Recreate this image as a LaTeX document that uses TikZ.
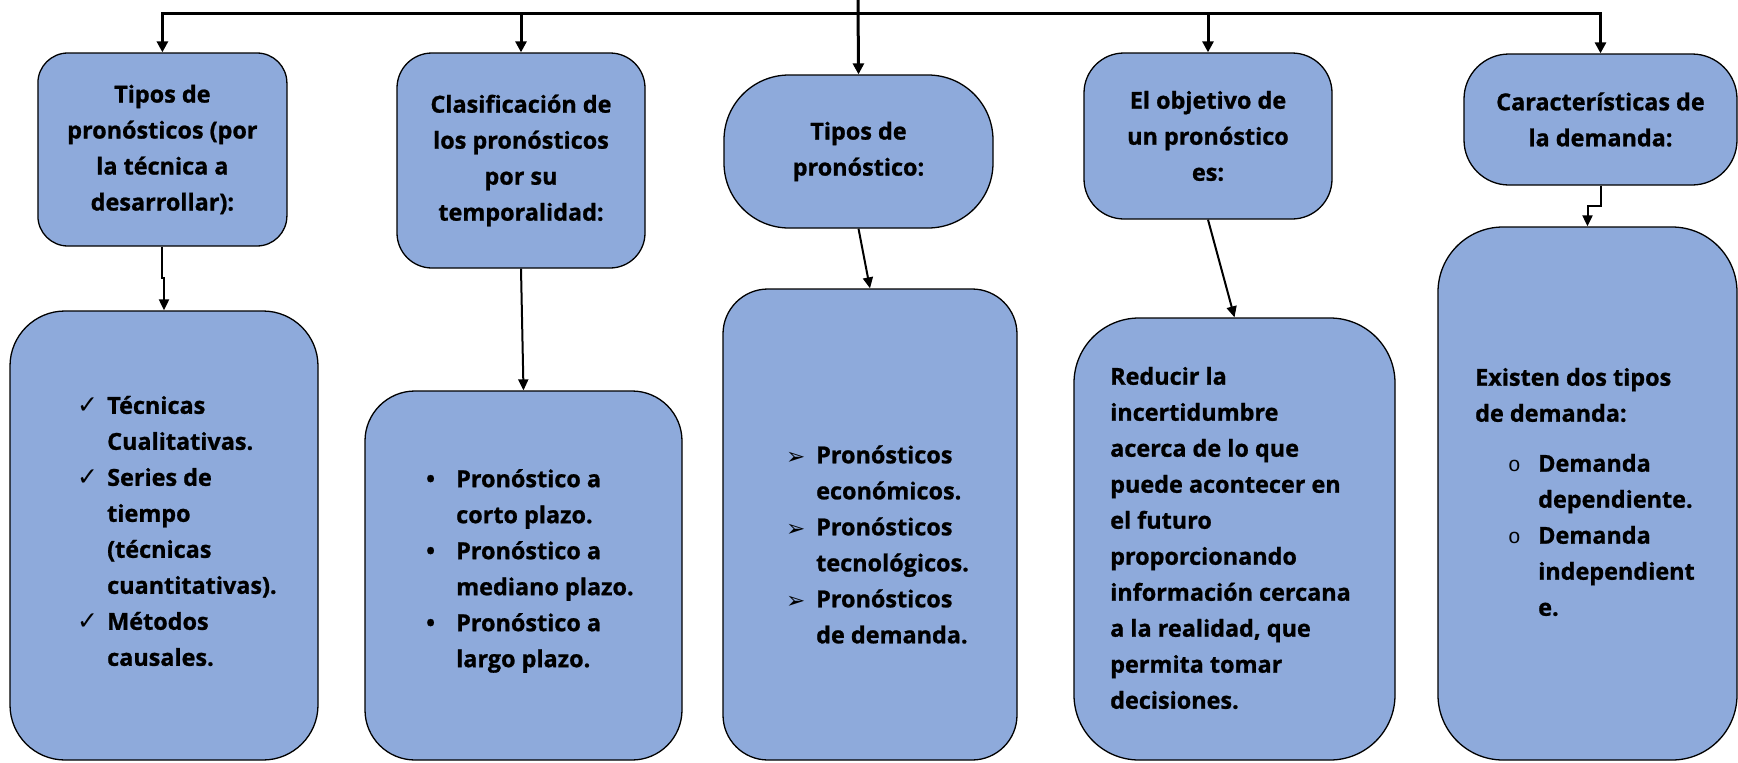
\documentclass[tikz,border=0pt]{standalone}
\usepackage{fontspec}
\setmainfont{Open Sans}[BoldFeatures={FakeBold=1}]
\newfontfamily\symfont{DejaVu Sans}
\newfontfamily\ringfont{Liberation Mono}
\usetikzlibrary{arrows.meta}
\definecolor{boxblue}{HTML}{8EAADB}
\newcommand{\itm}[1]{\makebox[30pt][l]{#1}}
\newcommand{\cnt}{\hspace*{30pt}}
\newcommand{\chk}{{\symfont\mdseries\fontsize{25}{25}\selectfont ✓}}
\newcommand{\arw}{{\symfont\mdseries\fontsize{23}{23}\selectfont\raisebox{-1pt}{➢}}}
\newcommand{\rng}{{\ringfont\mdseries\fontsize{21}{21}\selectfont o}}
\tikzset{
  box/.style={draw, line width=1.3pt, fill=boxblue, rounded corners=#1},
  box/.default=40pt,
  txt/.style={font=\fontsize{23.4}{36}\selectfont\bfseries, inner sep=0pt},
  bar/.style={line width=3pt},
  drop/.style={bar, -{Triangle[width=11pt,length=11pt]}},
  link/.style={line width=2pt, -{Triangle[width=10pt,length=11pt]}},
}
\begin{document}
\begin{tikzpicture}[x=1pt,y=-1pt]
  \useasboundingbox (0,0) rectangle (1738,763);
  \node[box=30pt, txt, align=center, minimum width=249pt, minimum height=193pt] (p1) at (162.4,149.5) {Tipos de\\pronósticos (por\\la técnica a\\desarrollar):};
  \node[box=35pt, txt, align=center, minimum width=248pt, minimum height=215pt] (p2) at (521,160.5) {Clasificación de\\los pronósticos\\por su\\temporalidad:};
  \node[box=65pt, txt, align=center, minimum width=269pt, minimum height=153pt] (p3) at (858.5,151.5) {Tipos de\\pronóstico:};
  \node[box=40pt, txt, align=center, minimum width=248pt, minimum height=166pt] (p4) at (1208,136) {El objetivo de\\un pronóstico\\es:};
  \node[box=45pt, txt, align=center, minimum width=273pt, minimum height=131pt] (p5) at (1600.5,119.5) {Características de\\la demanda:};

  \node[box=55pt, minimum width=308pt, minimum height=449pt] (d1) at (164,535.5) {};
  \node[box=50pt, minimum width=317pt, minimum height=369pt] (d2) at (523.5,575.5) {};
  \node[box=45pt, minimum width=294pt, minimum height=471pt] (d3) at (870,524.5) {};
  \node[box=65pt, minimum width=321pt, minimum height=442pt] (d4) at (1234.5,539) {};
  \node[box=65pt, minimum width=299pt, minimum height=533pt] (d5) at (1587.5,493.5) {};

  \node[txt, align=left, anchor=west] (l1) at (77,531) {\itm{\chk}Técnicas\\ \cnt Cualitativas.\\ \itm{\chk}Series de\\ \cnt tiempo\\ \cnt(técnicas\\ \cnt cuantitativas).\\ \itm{\chk}Métodos\\ \cnt causales.};
  \node[txt, align=left, anchor=west] (l2) at (426,571) {\itm{•}Pronóstico a\\ \cnt corto plazo.\\ \itm{•}Pronóstico a\\ \cnt mediano plazo.\\ \itm{•}Pronóstico a\\ \cnt largo plazo.};
  \node[txt, align=left, anchor=west] (l3) at (786,544.5) {\itm{\arw}Pronósticos\\ \cnt económicos.\\ \itm{\arw}Pronósticos\\ \cnt tecnológicos.\\ \itm{\arw}Pronósticos\\ \cnt de demanda.};
  \node[txt, align=left, anchor=west] (l4) at (1110,538) {Reducir la\\incertidumbre\\acerca de lo que\\puede acontecer en\\el futuro\\proporcionando\\información cercana\\a la realidad, que\\permita tomar\\decisiones.};
  \node[txt, align=left, anchor=west] (l5) at (1475,492) {Existen dos tipos\\de demanda:\\[14pt] \hspace*{33pt}\itm{\rng}Demanda\\ \hspace*{63pt}dependiente.\\ \hspace*{33pt}\itm{\rng}Demanda\\ \hspace*{63pt}independient\\ \hspace*{63pt}e.};

  \coordinate (top) at (858,0);
  \coordinate (h1) at (162.4,13);
  \coordinate (h2) at (521,13);
  \coordinate (h4) at (1208,13);
  \coordinate (h5) at (1600.5,13);
  \draw[bar, line cap=rect] (h1) -- (h5);
  \draw[drop] (top) -- (p3.north);
  \draw[drop] (h1) -- (p1.north);
  \draw[drop] (h2) -- (p2.north);
  \draw[drop] (h4) -- (p4.north);
  \draw[drop] (h5) -- (p5.north);

  \draw[link] (p1.south) -- ++(0,31) -| (d1.north);
  \draw[link] (p2.south) -- (d2.north);
  \draw[link] (p3.south) -- (d3.north);
  \draw[link] (p4.south) -- (d4.north);
  \draw[link] (p5.south) -- ++(0,20) -| (d5.north);
\end{tikzpicture}
\end{document}
